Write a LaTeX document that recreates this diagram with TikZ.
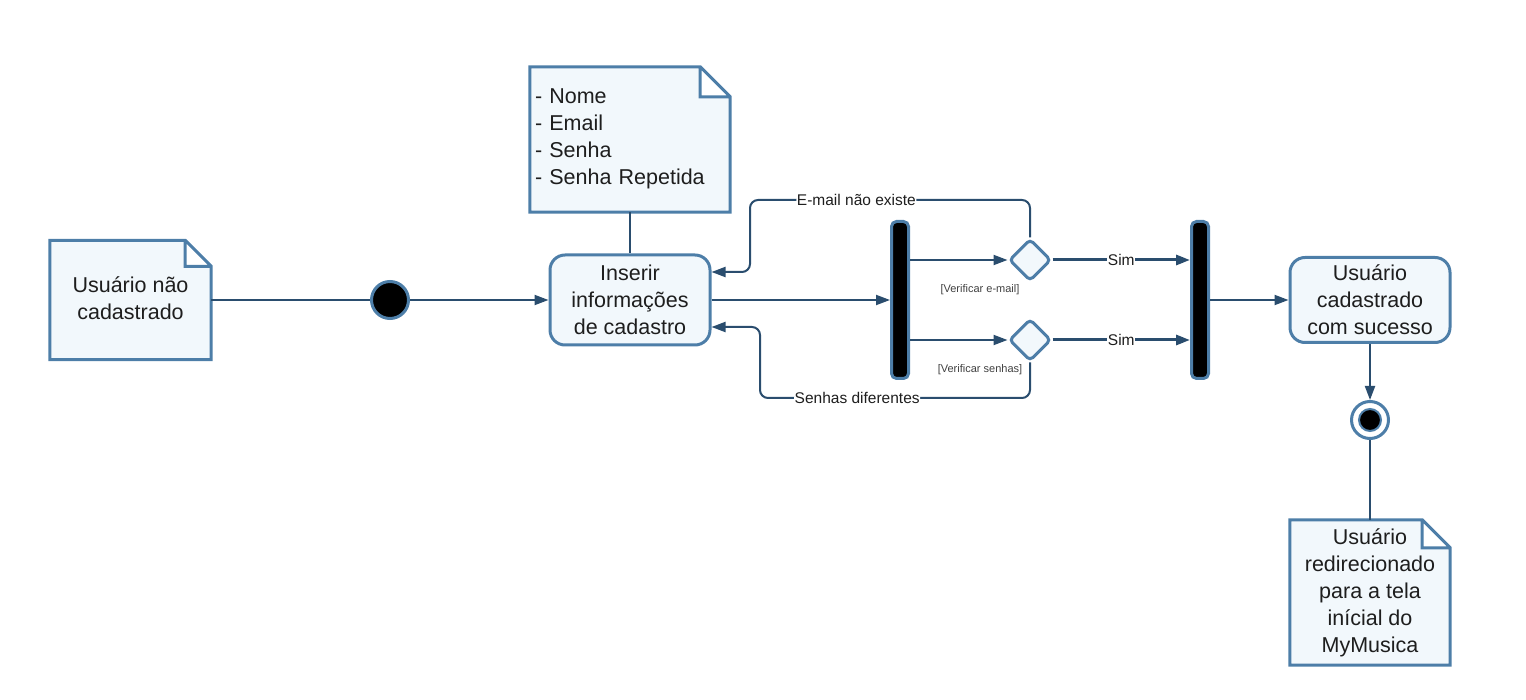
\documentclass[tikz,border=0pt]{standalone}
\usepackage{fontspec}
\setmainfont{Liberation Sans}
\usetikzlibrary{arrows.meta,shapes.geometric}

\definecolor{linha}{HTML}{2A4D6E}
\definecolor{borda}{HTML}{4D7EA8}
\definecolor{fundo}{HTML}{F2F8FC}
\definecolor{texto}{HTML}{1E1E1E}

\tikzset{
    fonte/.style={font=\fontsize{21.5}{27}\selectfont, text=texto},
    acao/.style={fonte, draw=borda, fill=fundo, line width=3pt, rounded corners=15pt,
        minimum width=160pt, align=center, inner sep=0pt},
    nota/.style={fonte, align=center, inner sep=0pt},
    barra/.style={draw=borda, fill=black, line width=3pt, rounded corners=5pt,
        minimum width=17pt, minimum height=157pt, inner sep=0pt},
    decisao/.style={diamond, draw=borda, fill=fundo, line width=3pt, rounded corners=4pt,
        minimum size=42pt, inner sep=0pt},
    seta/.style={draw=linha, line width=2pt, -{Triangle[length=14pt,width=10pt]}},
    liga/.style={draw=linha, line width=2pt},
    rotulo/.style={font=\fontsize{15.5}{18}\selectfont, text=texto, fill=white, inner sep=0.5pt},
    guarda/.style={font=\fontsize{11}{13}\selectfont, text=texto!85},
}

% contorno de nota com canto dobrado
\newcommand{\dobra}[2]{%
    \filldraw[draw=borda, fill=fundo, line width=3pt, line join=miter]
        (#1.north west) -- ([xshift=-#2]#1.north east) -- ([yshift=-#2]#1.north east)
        -- (#1.south east) -- (#1.south west) -- cycle
        ([xshift=-#2]#1.north east) |- ([yshift=-#2]#1.north east);
}

\begin{document}
\begin{tikzpicture}[x=1pt,y=-1pt]
    \useasboundingbox (0,0) rectangle (1526,700);

    % notas
    \node[nota, minimum width=161pt, minimum height=119pt] (naocad) at (130.5,300) {};
    \dobra{naocad}{26pt}
    \node[nota] at ([yshift=2pt]naocad.center) {Usuário não\\cadastrado};

    \node[nota, minimum width=200pt, minimum height=145pt] (campos) at (630,139.5) {};
    \dobra{campos}{30pt}
    \node[nota, align=left, text width=190pt] at (630,138.5) {- Nome\\- Email\\- Senha\\- Senha Repetida};

    \node[nota, minimum width=160pt, minimum height=145pt] (redir) at (1370,592.5) {};
    \dobra{redir}{28pt}
    \node[nota] at (redir) {Usuário\\redirecionado\\para a tela\\inícial do\\MyMusica};

    % nos de atividade
    \node[circle, fill=black, draw=borda, line width=3pt, minimum size=37pt] (inicio) at (390,300) {};
    \node[acao, minimum height=90pt] (inserir) at (630,300) {Inserir\\informações\\de cadastro};
    \node[barra] (barra1) at (900,300) {};
    \node[decisao] (dec1) at (1030,260) {};
    \node[decisao] (dec2) at (1030,340) {};
    \node[barra] (barra2) at (1200,300) {};
    \node[acao, minimum height=85pt] (sucesso) at (1370,300) {Usuário\\cadastrado\\com sucesso};
    \node[circle, draw=borda, fill=white, line width=3pt, minimum size=37pt] (fim) at (1370,420) {};
    \node[circle, draw=borda, fill=black, line width=2pt, minimum size=22pt] at (fim) {};

    \coordinate (volta1) at (750,200);
    \coordinate (volta2) at (760,398);

    % ligacoes
    \draw[liga] (naocad.east) -- (inicio.west);
    \draw[seta] (inicio.east) -- (inserir.west);
    \draw[liga] (campos.south) -- (inserir.north);
    \draw[seta] (inserir.east) -- (barra1.west);
    \draw[seta] (barra1.east |- dec1) -- (dec1.west);
    \draw[seta] (barra1.east |- dec2) -- (dec2.west);
    \draw[seta, line width=3pt] (dec1.east) -- node[rotulo] {Sim} (barra2.west |- dec1);
    \draw[seta, line width=3pt] (dec2.east) -- node[rotulo] {Sim} (barra2.west |- dec2);
    \draw[seta, rounded corners=8pt] (dec1.north) |- node[rotulo, pos=0.81] {E-mail não existe} (volta1)
        |- ([yshift=28pt]inserir.east);
    \draw[seta, rounded corners=8pt] (dec2.south) |- node[rotulo, pos=0.82] {Senhas diferentes} (volta2)
        |- ([yshift=-27pt]inserir.east);
    \draw[seta] (barra2.east) -- (sucesso.west);
    \draw[seta] (sucesso.south) -- (fim.north);
    \draw[liga] (fim.south) -- (redir.north);

    \node[guarda] at (980,290) {[Verificar e-mail]};
    \node[guarda] at (980,370) {[Verificar senhas]};
\end{tikzpicture}
\end{document}
